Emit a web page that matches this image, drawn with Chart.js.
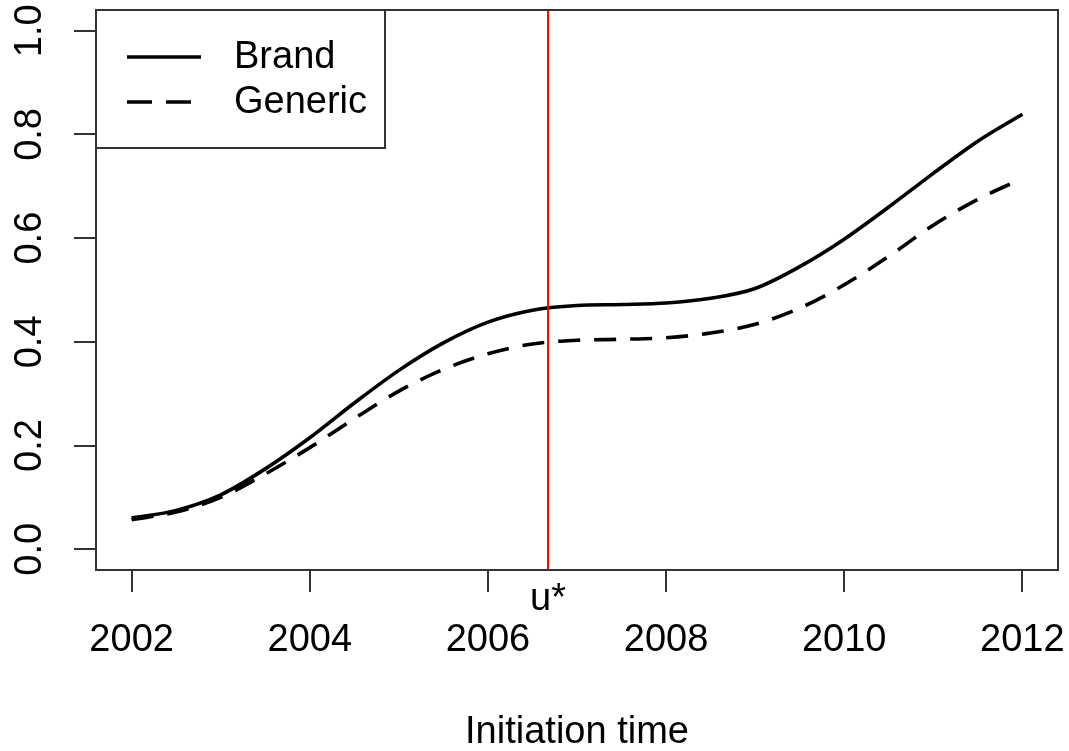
<!DOCTYPE html>
<html>
<head>
<meta charset="utf-8">
<script src="https://cdn.jsdelivr.net/npm/chart.js@4.4.1/dist/chart.umd.min.js"></script>
<style>
html,body{margin:0;padding:0;background:#fff;}
#wrap{width:1069px;height:751px;position:relative;}
</style>
</head>
<body>
<div id="wrap"><canvas id="c"></canvas></div>
<script>
// ---- data ----
const years = [2002.0, 2002.5, 2003.0, 2003.5, 2004.0, 2004.5, 2005.0, 2005.5, 2006.0, 2006.5,
               2007.0, 2007.5, 2008.0, 2008.5, 2009.0, 2009.5, 2010.0, 2010.5, 2011.0, 2011.5, 2012.0];
const brand = [0.060, 0.075, 0.105, 0.155, 0.215, 0.282, 0.345, 0.398, 0.438, 0.461,
               0.470, 0.472, 0.475, 0.484, 0.503, 0.545, 0.598, 0.660, 0.725, 0.787, 0.839];
const generic = [0.057, 0.072, 0.100, 0.145, 0.196, 0.252, 0.305, 0.347, 0.377, 0.396,
                 0.403, 0.405, 0.408, 0.417, 0.434, 0.465, 0.510, 0.565, 0.625, 0.675, 0.715];
const seriesNames = ['Brand', 'Generic'];
const xTickValues = [2002, 2004, 2006, 2008, 2010, 2012];
const xTickLabels = ['2002', '2004', '2006', '2008', '2010', '2012'];
const yTickValues = [0.0, 0.2, 0.4, 0.6, 0.8, 1.0];
const yTickLabels = ['0.0', '0.2', '0.4', '0.6', '0.8', '1.0'];
const uStar = 2006.675;
const uStarLabel = 'u*';
const xTitle = 'Initiation time';
const xRange = [2001.6, 2012.4];
const yRange = [-0.04, 1.04];

// ---- styling ----
const FONT = "'Liberation Sans', Arial, Helvetica, sans-serif";
const FS = 38;
Chart.defaults.font.family = FONT;
Chart.defaults.color = '#000';

const pts = (xs, ys) => xs.map((x, i) => ({x: x, y: ys[i]}));
const noPad = s => { s.paddingLeft = 0; s.paddingRight = 0; s.paddingTop = 0; s.paddingBottom = 0; };

const decor = {
  id: 'decor',
  afterDraw(chart) {
    const {ctx, chartArea: a, scales} = chart;
    ctx.save();
    // plot box
    ctx.strokeStyle = '#333';
    ctx.lineWidth = 2;
    ctx.strokeRect(a.left, a.top, a.right - a.left, a.bottom - a.top);
    // legend box
    const lx = a.left, ly = a.top, lw = 289, lh = 138;
    ctx.strokeRect(lx, ly, lw, lh);
    const ds = chart.data.datasets.filter(d => d.inLegend);
    ds.forEach((d, i) => {
      const yy = ly + 47 + i * 45;
      ctx.beginPath();
      ctx.setLineDash(d.borderDash ? [25, 14] : []);
      ctx.lineDashOffset = 0;
      ctx.strokeStyle = d.borderColor;
      ctx.lineWidth = d.borderWidth;
      ctx.lineCap = 'butt';
      ctx.moveTo(lx + 31, yy);
      ctx.lineTo(lx + 105, yy);
      ctx.stroke();
      ctx.setLineDash([]);
      ctx.fillStyle = '#000';
      ctx.font = FS + 'px ' + FONT;
      ctx.textAlign = 'left';
      ctx.textBaseline = 'middle';
      ctx.fillText(d.label, lx + 138, yy + 1);
    });
    // u* label under the axis
    const ux = scales.x.getPixelForValue(uStar);
    ctx.fillStyle = '#000';
    ctx.font = FS + 'px ' + FONT;
    ctx.textAlign = 'center';
    ctx.textBaseline = 'alphabetic';
    ctx.fillText(uStarLabel, ux, a.bottom + 40);
    ctx.restore();
  }
};

new Chart(document.getElementById('c'), {
  type: 'line',
  data: {
    datasets: [
      {
        label: 'u*',
        data: [{x: uStar, y: yRange[0]}, {x: uStar, y: yRange[1]}],
        borderColor: '#ff0000',
        borderWidth: 2,
        pointRadius: 0,
        order: 0,
        inLegend: false
      },
      {
        label: seriesNames[0],
        data: pts(years, brand),
        borderColor: '#000',
        borderWidth: 3.6,
        pointRadius: 0,
        cubicInterpolationMode: 'monotone',
        order: 1,
        inLegend: true
      },
      {
        label: seriesNames[1],
        data: pts(years, generic),
        borderColor: '#000',
        borderWidth: 3.6,
        borderDash: [22, 14],
        pointRadius: 0,
        cubicInterpolationMode: 'monotone',
        order: 2,
        inLegend: true
      }
    ]
  },
  options: {
    responsive: true,
    maintainAspectRatio: false,
    animation: false,
    devicePixelRatio: 1,
    layout: {padding: {left: 0, right: 11, top: 10, bottom: 0}},
    plugins: {legend: {display: false}, tooltip: {enabled: false}},
    scales: {
      x: {
        type: 'linear',
        min: xRange[0],
        max: xRange[1],
        afterBuildTicks: s => { s.ticks = xTickValues.map(v => ({value: v})); },
        afterFit: s => { s.height = 181; noPad(s); },
        border: {display: false},
        grid: {display: true, drawOnChartArea: false, drawTicks: true, tickLength: 22, color: '#333', lineWidth: 2},
        ticks: {
          font: {size: FS},
          color: '#000',
          padding: 26,
          maxRotation: 0,
          minRotation: 0,
          autoSkip: false,
          callback: (v) => xTickLabels[xTickValues.indexOf(v)]
        },
        title: {
          display: true,
          text: xTitle,
          color: '#000',
          font: {size: FS, lineHeight: 1},
          padding: {top: 0, bottom: -1}
        }
      },
      y: {
        type: 'linear',
        min: yRange[0],
        max: yRange[1],
        afterBuildTicks: s => { s.ticks = yTickValues.map(v => ({value: v})); },
        afterFit: s => { s.width = 96; noPad(s); },
        border: {display: false},
        grid: {display: true, drawOnChartArea: false, drawTicks: true, tickLength: 22, color: '#333', lineWidth: 2},
        ticks: {
          font: {size: FS},
          color: '#000',
          padding: 17,
          minRotation: 90,
          maxRotation: 90,
          crossAlign: 'center',
          autoSkip: false,
          callback: (v) => yTickLabels[yTickValues.indexOf(v)]
        }
      }
    }
  },
  plugins: [decor]
});
</script>
</body>
</html>
